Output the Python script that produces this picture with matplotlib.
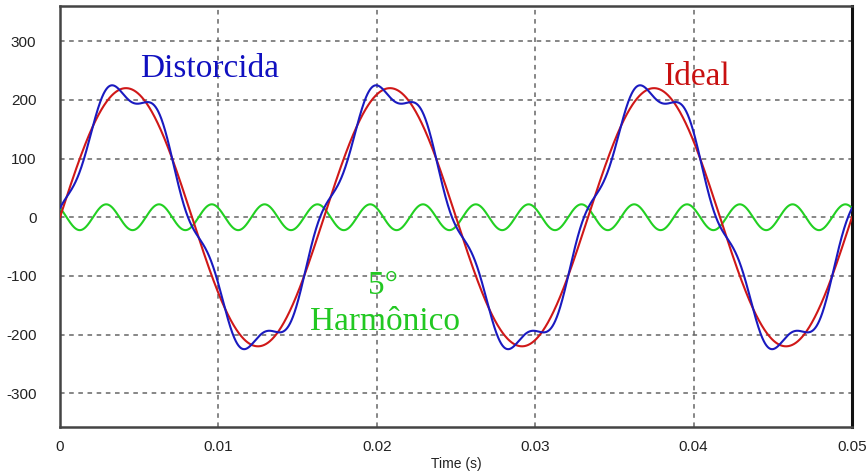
import numpy as np
import matplotlib
matplotlib.use("Agg")
import matplotlib.pyplot as plt

# Signal parameters of the plotted waveforms
fundamental_freq_hz = 60.0
fundamental_amp = 220.0
harmonic_order = 5
harmonic_amp = 22.0
harmonic_phase_deg = 45.0

x_ticks = [0, 0.01, 0.02, 0.03, 0.04, 0.05]
x_tick_labels = ["0", "0.01", "0.02", "0.03", "0.04", "0.05"]
y_ticks = [-300, -200, -100, 0, 100, 200, 300]
y_tick_labels = ["-300", "-200", "-100", "0", "100", "200", "300"]

t = np.linspace(0.0, 0.05, 3001)
w = 2 * np.pi * fundamental_freq_hz
ideal = fundamental_amp * np.sin(w * t)
harmonic = harmonic_amp * np.cos(harmonic_order * w * t + np.deg2rad(harmonic_phase_deg))
distorted = ideal + harmonic

fig = plt.figure(figsize=(8.67, 4.72), dpi=100)
ax = fig.add_axes([0.0692, 0.0947, 0.9135, 0.8926])

ax.plot(t, harmonic, color="#22d022", lw=1.5, zorder=3)
ax.plot(t, ideal, color="#d01818", lw=1.5, zorder=4)
ax.plot(t, distorted, color="#1a1ac0", lw=1.5, zorder=5)

ax.set_xlim(0, 0.05)
ax.set_ylim(-358, 360)
ax.set_xticks(x_ticks)
ax.set_xticklabels(x_tick_labels)
ax.set_yticks(y_ticks)
ax.set_yticklabels(y_tick_labels)
ax.grid(True, color="#666666", linestyle=(0, (3, 3)), lw=1.1)
ax.tick_params(length=0, labelsize=11, colors="#222222")
ax.tick_params(axis="x", pad=9)
ax.tick_params(axis="y", pad=17)
for lbl in ax.get_xticklabels() + ax.get_yticklabels():
    lbl.set_fontfamily("Liberation Sans")
ax.set_xlabel("Time (s)", fontsize=10, family="Liberation Sans", color="#222222",
              va="center")
ax.xaxis.set_label_coords(0.5, -0.088)

for side in ["left", "bottom", "top"]:
    ax.spines[side].set_color("#444444")
    ax.spines[side].set_linewidth(1.8)
ax.spines["right"].set_color("#111111")
ax.spines["right"].set_linewidth(2.2)

serif = "Liberation Serif"
ax.text(0.00946, 239, "Distorcida", color="#1010c0", fontsize=24, family=serif,
        ha="center", va="baseline")
ax.text(0.0402, 225, "Ideal", color="#c81010", fontsize=24, family=serif,
        ha="center", va="baseline")
ax.text(0.02037, -130, "5°", color="#22c822", fontsize=24, family=serif,
        ha="center", va="baseline")
ax.text(0.02052, -193, "Harmônico", color="#22c822", fontsize=24, family=serif,
        ha="center", va="baseline")

fig.savefig("out.png", dpi=100)
